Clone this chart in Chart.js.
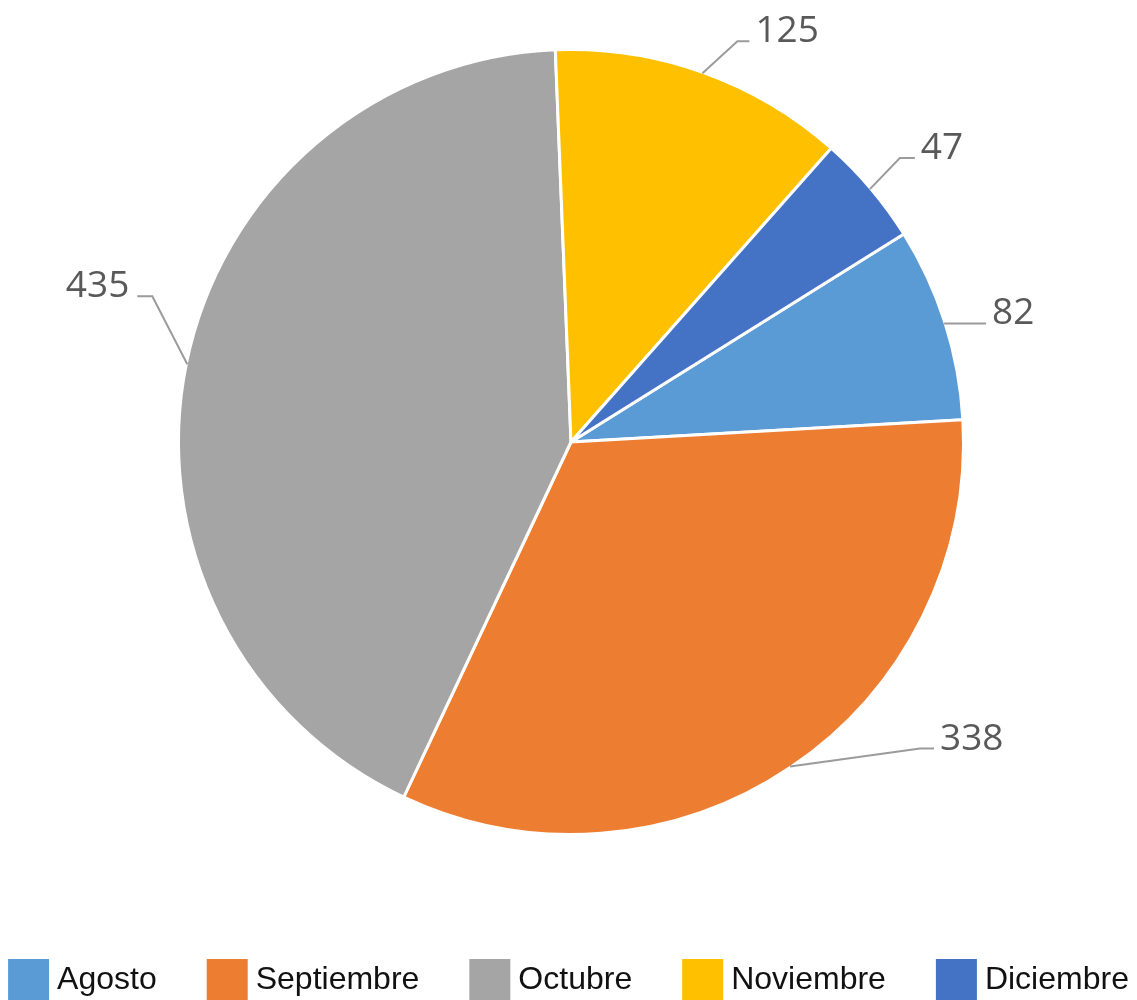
<!DOCTYPE html>
<html>
<head>
<meta charset="utf-8">
<script src="https://cdn.jsdelivr.net/npm/chart.js@4/dist/chart.umd.min.js"></script>
<style>
html, body { margin: 0; padding: 0; background: #fff; }
</style>
</head>
<body>
<canvas id="chart" width="1137" height="1000"></canvas>
<script>
var months = ['Agosto', 'Septiembre', 'Octubre', 'Noviembre', 'Diciembre']
var totals = [82, 338, 435, 125, 47]
var colors = ['#5B9BD5', '#ED7D31', '#A5A5A5', '#FFC000', '#4472C4']

// leader line shape per slice: elbow dx, elbow dy, horizontal run
var leaders = [[0, 0, 42], [130, -18, 14], [-35, -68, -15], [35, -32, 12], [30, -31, 15]]

var outsideLabels = {
	id: 'outsideLabels',
	afterDatasetsDraw: function(chart) {
		var ctx = chart.ctx
		var meta = chart.getDatasetMeta(0)
		ctx.save()
		meta.data.forEach(function(arc, i) {
			var p = arc.getProps(['x', 'y', 'startAngle', 'endAngle', 'outerRadius'], true)
			var mid = (p.startAngle + p.endAngle) / 2
			var r = p.outerRadius - 1
			var ax = p.x + Math.cos(mid) * r
			var ay = p.y + Math.sin(mid) * r
			var b = leaders[i]
			var ex = ax + b[0]
			var ey = ay + b[1]
			var hx = ex + b[2]
			ctx.strokeStyle = '#9b9b9b'
			ctx.lineWidth = 2
			ctx.beginPath()
			ctx.moveTo(ax, ay)
			ctx.lineTo(ex, ey)
			ctx.lineTo(hx, ey)
			ctx.stroke()
			ctx.font = '37px "Open Sans"'
			ctx.fillStyle = '#595959'
			ctx.textBaseline = 'alphabetic'
			if (b[2] >= 0) {
				ctx.textAlign = 'left'
				ctx.fillText(String(totals[i]), hx + 6, ey + 1)
			} else {
				ctx.textAlign = 'right'
				ctx.fillText(String(totals[i]), hx - 8, ey + 1)
			}
		})
		ctx.restore()
	}
}

var bottomLegend = {
	id: 'bottomLegend',
	afterDraw: function(chart) {
		var ctx = chart.ctx
		var labels = chart.data.labels
		var bg = chart.data.datasets[0].backgroundColor
		var box = 41, gap = 8, spacing = 50
		ctx.save()
		ctx.font = '32px "Liberation Sans", Arial, sans-serif'
		var widths = labels.map(function(l) { return ctx.measureText(l).width })
		var total = 0
		widths.forEach(function(w) { total += box + gap + w })
		total += spacing * (labels.length - 1)
		var x = (chart.width - total) / 2
		var baseline = 989
		labels.forEach(function(l, i) {
			ctx.fillStyle = bg[i]
			ctx.fillRect(x, 959, box, box)
			ctx.fillStyle = '#111'
			ctx.textAlign = 'left'
			ctx.textBaseline = 'alphabetic'
			ctx.fillText(l, x + box + gap, baseline)
			x += box + gap + widths[i] + spacing
		})
		ctx.restore()
	}
}

var ctx = document.getElementById('chart').getContext('2d')
var chart = new Chart(ctx, {
	type: 'pie',
	data: {
		labels: months,
		datasets: [{
			data: totals,
			backgroundColor: colors,
			borderColor: '#ffffff',
			borderWidth: 3
		}]
	},
	options: {
		responsive: false,
		animation: false,
		rotation: 58,
		layout: {
			padding: { top: 48, bottom: 164, left: 5, right: 0 }
		},
		plugins: {
			legend: { display: false },
			tooltip: { enabled: false }
		}
	},
	plugins: [outsideLabels, bottomLegend]
})
</script>
</body>
</html>
